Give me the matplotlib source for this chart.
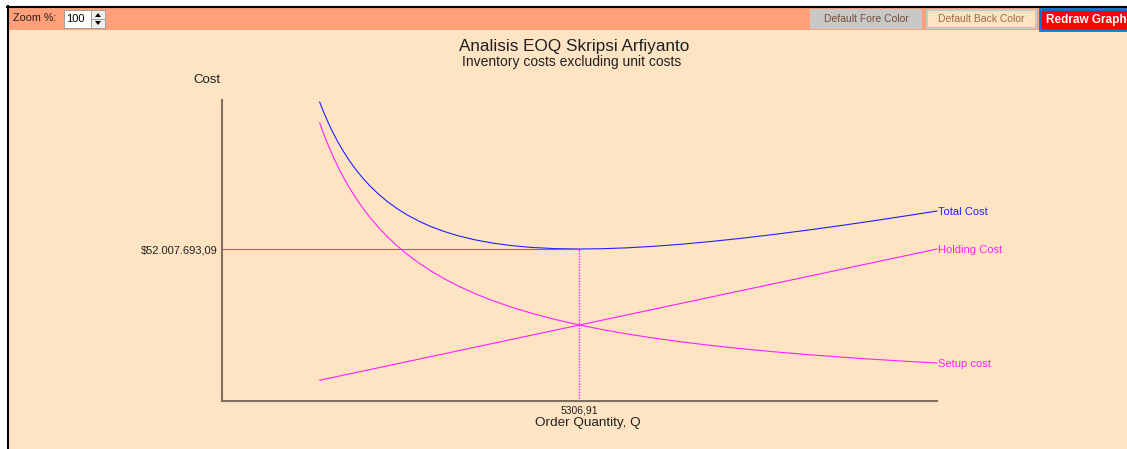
import matplotlib
matplotlib.use("Agg")
import matplotlib.pyplot as plt
from matplotlib.patches import Rectangle, Polygon

plt.rcParams['font.family'] = ['Liberation Sans', 'DejaVu Sans']

# ---- data ----
order_qty = [1450, 1500, 1575, 1650, 1725, 1800, 1900, 2000, 2100, 2200, 2325,
             2450, 2600, 2750, 2925, 3100, 3300, 3500, 3750, 4000, 4300, 4600,
             4950, 5306.91, 5650, 6000, 6400, 6800, 7250, 7700, 8200, 8700,
             9200, 9700, 10150, 10614]
setup_cost = [95.17e6, 92.00e6, 87.62e6, 83.64e6, 80.00e6, 76.67e6, 72.63e6,
              69.00e6, 65.71e6, 62.73e6, 59.35e6, 56.33e6, 53.08e6, 50.18e6,
              47.18e6, 44.52e6, 41.82e6, 39.43e6, 36.80e6, 34.50e6, 32.09e6,
              30.00e6, 27.88e6, 26.00e6, 24.42e6, 23.00e6, 21.56e6, 20.29e6,
              19.03e6, 17.92e6, 16.83e6, 15.86e6, 15.00e6, 14.23e6, 13.60e6,
              13.00e6]
holding_cost = [7.11e6, 7.35e6, 7.72e6, 8.09e6, 8.45e6, 8.82e6, 9.31e6, 9.80e6,
                10.29e6, 10.78e6, 11.39e6, 12.01e6, 12.74e6, 13.48e6, 14.33e6,
                15.19e6, 16.17e6, 17.15e6, 18.38e6, 19.60e6, 21.07e6, 22.54e6,
                24.26e6, 26.00e6, 27.69e6, 29.40e6, 31.36e6, 33.32e6, 35.53e6,
                37.73e6, 40.18e6, 42.63e6, 45.08e6, 47.53e6, 49.74e6, 52.01e6]
total_cost = [102.28e6, 99.35e6, 95.34e6, 91.72e6, 88.45e6, 85.49e6, 81.94e6,
              78.80e6, 76.00e6, 73.51e6, 70.74e6, 68.34e6, 65.82e6, 63.66e6,
              61.51e6, 59.71e6, 57.99e6, 56.58e6, 55.18e6, 54.10e6, 53.16e6,
              52.54e6, 52.14e6, 52.0077e6, 52.11e6, 52.40e6, 52.92e6, 53.61e6,
              54.56e6, 55.65e6, 57.01e6, 58.49e6, 60.08e6, 61.76e6, 63.34e6,
              65.01e6]
eoq = 5306.91
min_total = 52007693.09
eoq_label = "5306,91"
cost_label = "$52.007.693,09"
series_names = ["Total Cost", "Holding Cost", "Setup cost"]

W, H = 1127, 449
fig = plt.figure(figsize=(W / 100, H / 100), dpi=100)
fig.patch.set_facecolor('white')

# overlay in pixel coordinates for window chrome
bg = fig.add_axes([0, 0, 1, 1], zorder=0)
bg.set_xlim(0, W)
bg.set_ylim(H, 0)
bg.axis('off')
peach = '#FFE4C4'
salmon = '#FFA07A'
bg.add_patch(Rectangle((7, 6), W - 7, H - 6, facecolor=peach, edgecolor='none'))
bg.add_patch(Rectangle((7, 6), W - 7, 24, facecolor=salmon, edgecolor='none'))
bg.plot([7, W], [6.5, 6.5], color='black', lw=1.5)
bg.plot([7.5, 7.5], [6, H], color='black', lw=1.5)
bg.text(13, 18, "Zoom %:", fontsize=7.8, color='#202020', va='center', ha='left')
bg.add_patch(Rectangle((64, 10), 27, 18, facecolor='white', edgecolor='#a0a0a0', lw=0.7))
bg.text(66, 18.5, "100", fontsize=8, color='black', va='center', ha='left')
bg.add_patch(Rectangle((91, 10), 14, 18, facecolor='#f0f0f0', edgecolor='#a0a0a0', lw=0.7))
bg.plot([91, 105], [19, 19], color='#a0a0a0', lw=0.7)
bg.add_patch(Polygon([[95, 17], [101, 17], [98, 13]], closed=True, facecolor='black'))
bg.add_patch(Polygon([[95, 21], [101, 21], [98, 25]], closed=True, facecolor='black'))
bg.add_patch(Rectangle((810, 9), 112, 20, facecolor='#C8C8C8', edgecolor='none'))
bg.text(866, 19, "Default Fore Color", fontsize=7.5, color='#7B4B33', va='center', ha='center')
bg.add_patch(Rectangle((927, 10), 109, 18, facecolor=peach, edgecolor='#C8C8C8', lw=1.5))
bg.text(981, 19, "Default Back Color", fontsize=7.5, color='#9B6B43', va='center', ha='center')
bg.add_patch(Rectangle((1040, 9), 90, 21, facecolor='#FF0000', edgecolor='#0078D7', lw=2))
bg.text(1046, 19.5, "Redraw Graph", fontsize=8.5, color='white', fontweight='bold', va='center', ha='left')

# titles
bg.text(574, 47, "Analisis EOQ Skripsi Arfiyanto", fontsize=12.3, color='#202020', ha='center', va='center')
bg.text(572, 62, "Inventory costs excluding unit costs", fontsize=10, color='#202020', ha='center', va='center')
bg.text(207, 80, "Cost", fontsize=9.5, color='#202020', ha='center', va='center')

# main plot
ax = fig.add_axes([222 / W, 1 - 401 / H, (937 - 222) / W, (401 - 100) / H], zorder=1)
ax.patch.set_alpha(0)
ax.set_xlim(0, 10614)
ax.set_ylim(0, 103.0e6)
for s in ['top', 'right']:
    ax.spines[s].set_visible(False)
for s in ['left', 'bottom']:
    ax.spines[s].set_color('#7F6F5F')
    ax.spines[s].set_linewidth(1.5)

blue = '#2020FF'
mag = '#FF20FF'
ax.plot(order_qty, total_cost, color=blue, lw=0.8, clip_on=False)
ax.plot(order_qty, holding_cost, color=mag, lw=0.8, clip_on=False)
ax.plot(order_qty, setup_cost, color=mag, lw=0.8, clip_on=False)
ax.plot([0, eoq], [min_total, min_total], color=mag, lw=0.8)
ax.plot([eoq, eoq], [0, min_total], color=mag, lw=1.0, linestyle=(0, (1, 1)))

ax.set_xticks([eoq])
ax.set_xticklabels([eoq_label], fontsize=7.5, color='#202020')
ax.set_yticks([min_total])
ax.set_yticklabels([cost_label], fontsize=8, color='#202020')
ax.tick_params(length=0, pad=3)
ax.set_xlabel("Order Quantity, Q", fontsize=9.7, color='#202020')
ax.xaxis.set_label_coords((588 - 222) / 715, -0.052)

ends = [total_cost[-1], holding_cost[-1], setup_cost[-1]]
cols = [blue, mag, mag]
for name, yv, c in zip(series_names, ends, cols):
    ax.text(order_qty[-1] + 20, yv, name, fontsize=8, color=c, ha='left',
            va='center_baseline', clip_on=False)

fig.savefig("out.png", dpi=100, facecolor=fig.get_facecolor())
